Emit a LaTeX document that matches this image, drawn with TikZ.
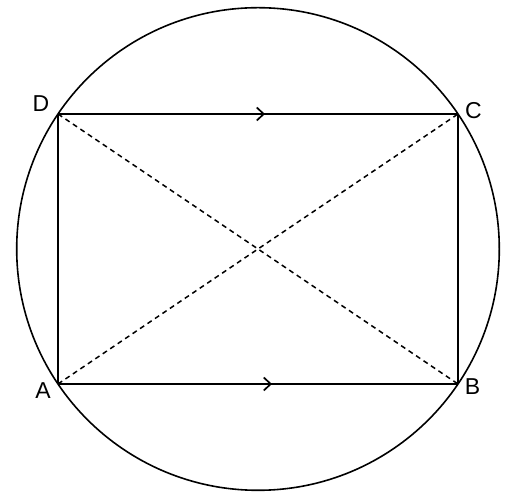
\documentclass[tikz,border=0pt]{standalone}
\usepackage{fontspec}
\setmainfont{Liberation Sans}
\usetikzlibrary{arrows.meta,decorations.markings}
\begin{document}
\begin{tikzpicture}[x=1pt,y=1pt,
  edge/.style={line width=1.7pt},
  diag/.style={line width=1.5pt,dash pattern=on 5pt off 4pt},
  lbl/.style={font=\fontsize{23}{23}\selectfont,inner sep=0pt},
  chev/.style={decoration={markings,mark=at position #1 with {\arrow{Straight Barb[length=7pt,width=13pt,line width=1.7pt]}}},postaction={decorate}}]
\useasboundingbox (0,0) rectangle (507,500);
\coordinate (O) at (258,251);
\coordinate (A) at (58,116);
\coordinate (B) at (458,116);
\coordinate (C) at (458,386);
\coordinate (D) at (58,386);
\draw[line width=1.6pt] (O) circle (241.3);
\draw[edge,chev=0.5175] (D) -- (C);
\draw[edge,chev=0.535] (A) -- (B);
\draw[edge] (D) -- (A);
\draw[edge] (C) -- (B);
\draw[diag] (A) -- (C);
\draw[diag] (D) -- (B);
\node[lbl] (lA) at (43,109) {A};
\node[lbl] (lB) at (472.5,113.5) {B};
\node[lbl] (lC) at (473.5,389) {C};
\node[lbl] (lD) at (41,396) {D};
\end{tikzpicture}
\end{document}
